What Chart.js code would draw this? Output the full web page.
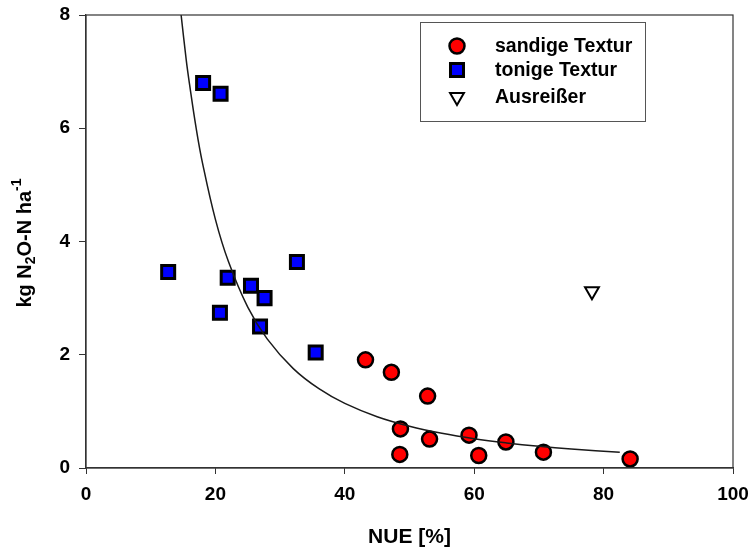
<!DOCTYPE html>
<html>
<head>
<meta charset="utf-8">
<title>NUE vs N2O</title>
<script src="https://cdn.jsdelivr.net/npm/chart.js@4.4.0/dist/chart.umd.min.js"></script>
<style>
  body { margin: 0; background: #fff; }
  #wrap { width: 751px; height: 551px; }
</style>
</head>
<body>
<div id="wrap"><canvas id="nueChart" width="751" height="551"></canvas></div>
<script>
// NUE [%] und N2O-Emissionen je Standort
const sandX = [43.2, 47.2, 52.8, 48.6, 53.1, 59.2, 64.9, 70.7, 84.1, 48.5, 60.7];
const sandY = [1.91, 1.69, 1.27, 0.69, 0.51, 0.58, 0.46, 0.28, 0.16, 0.24, 0.22];
const tonX = [18.1, 20.8, 12.7, 21.9, 25.5, 27.6, 32.6, 20.7, 26.9, 35.5];
const tonY = [6.80, 6.61, 3.46, 3.36, 3.22, 3.00, 3.64, 2.74, 2.50, 2.04];
const ausX = [78.2];
const ausY = [3.12];

// Regressionskurve (Potenzfunktion)
const fitX = [14.7, 15.5, 16, 17, 18, 20, 22, 25, 28, 32, 36, 40, 45, 50, 55, 60, 65, 70, 75, 82.5];
const fitY = [8.0, 7.2, 6.78, 6.02, 5.39, 4.39, 3.65, 2.84, 2.28, 1.76, 1.40, 1.14, 0.906, 0.738, 0.613, 0.517, 0.443, 0.383, 0.335, 0.278];

const xTicks = [0, 20, 40, 60, 80, 100];
const yTicks = [0, 2, 4, 6, 8];

const legendNames = ['sandige Textur', 'tonige Textur', 'Ausreißer'];

function pairs(xs, ys) {
    return xs.map((x, i) => ({ x: x, y: ys[i] }));
}

const FONT = '"Liberation Sans", Arial, sans-serif';

// Rahmen, y-Achsentitel mit Index und Legende
const extras = {
    id: 'extras',
    afterDraw(chart) {
        const ctx = chart.ctx;
        const a = chart.chartArea;
        ctx.save();
        ctx.strokeStyle = '#333';
        ctx.lineWidth = 1.2;
        ctx.strokeRect(a.left, a.top, a.right - a.left, a.bottom - a.top);

        // y-Titel: kg N2O-N ha-1
        ctx.translate(25, 243);
        ctx.rotate(-Math.PI / 2);
        ctx.fillStyle = '#000';
        ctx.textBaseline = 'middle';
        const big = 'bold 20px ' + FONT;
        const small = 'bold 14px ' + FONT;
        const parts = [
            { t: 'kg N', f: big, dy: 0 },
            { t: '2', f: small, dy: 6 },
            { t: 'O-N ha', f: big, dy: 0 },
            { t: '-1', f: small, dy: -8 }
        ];
        let total = 0;
        parts.forEach(p => { ctx.font = p.f; p.w = ctx.measureText(p.t).width; total += p.w; });
        let px = -total / 2;
        parts.forEach(p => {
            ctx.font = p.f;
            ctx.fillText(p.t, px, p.dy);
            px += p.w;
        });
        ctx.restore();

        // Legende
        ctx.save();
        ctx.strokeStyle = '#555';
        ctx.lineWidth = 1;
        ctx.fillStyle = '#fff';
        ctx.fillRect(420.5, 22.5, 225, 99);
        ctx.strokeRect(420.5, 22.5, 225, 99);
        const rows = [46, 70, 97];
        const sets = chart.data.datasets.slice(1);
        sets.forEach((ds, i) => {
            ctx.fillStyle = ds.backgroundColor;
            ctx.strokeStyle = ds.borderColor;
            ctx.lineWidth = ds.borderWidth;
            Chart.helpers.drawPoint(ctx, {
                pointStyle: ds.pointStyle,
                radius: ds.pointRadius,
                rotation: ds.rotation || 0,
                borderWidth: ds.borderWidth
            }, 457, rows[i]);
            ctx.fillStyle = '#000';
            ctx.font = 'bold 19.5px ' + FONT;
            ctx.textBaseline = 'middle';
            ctx.textAlign = 'left';
            ctx.fillText(legendNames[i], 495, rows[i] + 1);
        });
        ctx.restore();
    }
};

const ctx = document.getElementById('nueChart').getContext('2d');
const nueChart = new Chart(ctx, {
    type: 'scatter',
    data: {
        datasets: [
            {
                label: 'Kurve',
                data: pairs(fitX, fitY),
                showLine: true,
                borderColor: '#1a1a1a',
                borderWidth: 1.5,
                pointRadius: 0,
                tension: 0.4,
                fill: false
            },
            {
                label: legendNames[0],
                data: pairs(sandX, sandY),
                pointStyle: 'circle',
                pointRadius: 7.5,
                backgroundColor: '#ff0000',
                borderColor: '#000',
                borderWidth: 2.5
            },
            {
                label: legendNames[1],
                data: pairs(tonX, tonY),
                pointStyle: 'rect',
                pointRadius: 9.2,
                backgroundColor: '#0000ff',
                borderColor: '#000',
                borderWidth: 3
            },
            {
                label: legendNames[2],
                data: pairs(ausX, ausY),
                pointStyle: 'triangle',
                rotation: 180,
                pointRadius: 8,
                backgroundColor: '#fff',
                borderColor: '#000',
                borderWidth: 2
            }
        ]
    },
    options: {
        responsive: false,
        animation: false,
        layout: { padding: { top: 15, right: 18, left: 0, bottom: 0 } },
        plugins: {
            legend: { display: false },
            tooltip: { enabled: false }
        },
        scales: {
            x: {
                type: 'linear',
                min: 0,
                max: 100,
                afterBuildTicks: s => { s.ticks = xTicks.map(v => ({ value: v })); },
                afterFit: s => { s.height = 83; s.paddingLeft = 0; s.paddingRight = 0; },
                grid: { drawOnChartArea: false, drawTicks: true, tickLength: 6, color: '#333' },
                border: { color: '#333', width: 1.2 },
                ticks: { color: '#000', padding: 9, font: { family: FONT, size: 19, weight: 'bold' } },
                title: {
                    display: true,
                    text: 'NUE [%]',
                    color: '#000',
                    font: { family: FONT, size: 21, weight: 'bold' },
                    padding: { top: 0, bottom: 1 }
                }
            },
            y: {
                type: 'linear',
                min: 0,
                max: 8,
                afterBuildTicks: s => { s.ticks = yTicks.map(v => ({ value: v })); },
                afterFit: s => { s.width = 86; s.paddingTop = 0; s.paddingBottom = 0; },
                grid: { drawOnChartArea: false, drawTicks: true, tickLength: 7, color: '#333' },
                border: { color: '#333', width: 1.2 },
                ticks: { color: '#000', padding: 9, font: { family: FONT, size: 19, weight: 'bold' } }
            }
        }
    },
    plugins: [extras]
});
</script>
</body>
</html>
